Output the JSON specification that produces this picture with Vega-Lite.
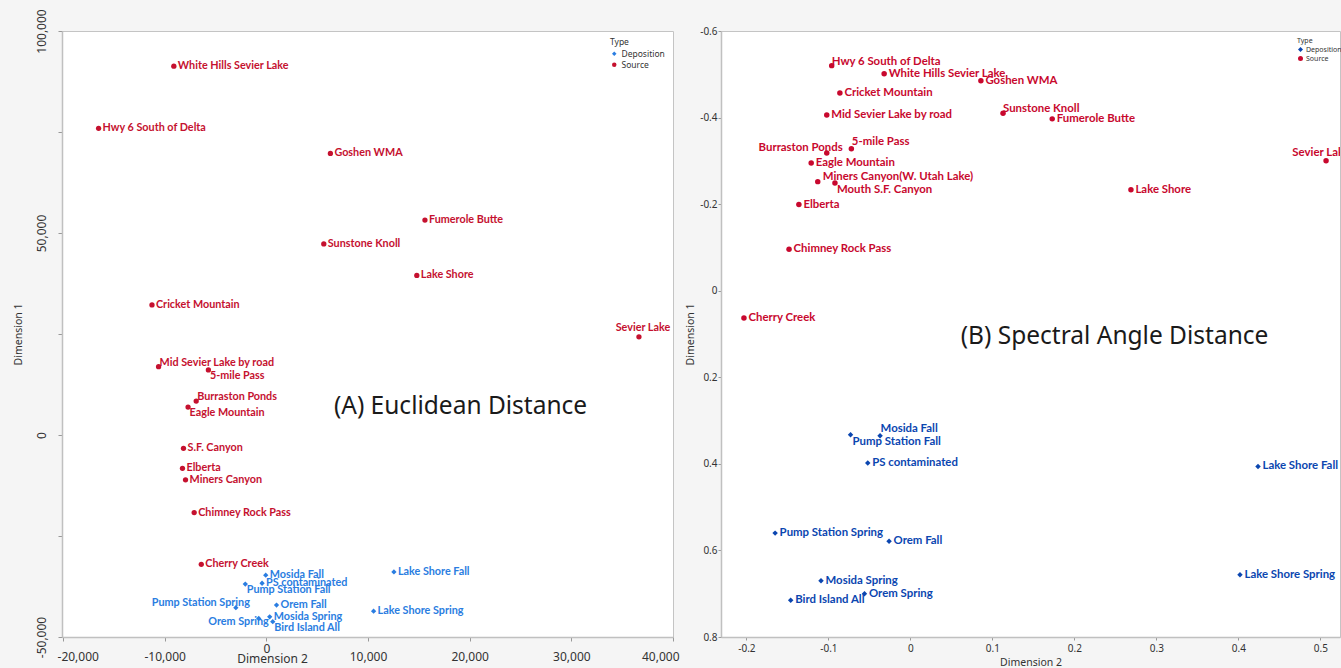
{
  "$schema": "https://vega.github.io/schema/vega-lite/v6.json",
  "background": "#f5f5f5",
  "padding": {"left": 12, "top": 8, "right": 0, "bottom": 0},
  "spacing": 5,
  "config": {
    "view": {"fill": "white", "stroke": "#c4c4c4"},
    "axis": {"grid": false, "domainColor": "#c0c0c0", "domainWidth": 1.5, "tickColor": "#999999", "labelColor": "#333333", "titleColor": "#333333", "labelFont": "Noto Sans", "titleFont": "Noto Sans", "titleFontWeight": "normal"},
    "legend": {"labelFont": "Noto Sans", "titleFont": "Noto Sans", "titleFontWeight": "normal", "labelColor": "#333333", "titleColor": "#333333"}
  },
  "resolve": {"scale": {"color": "independent", "shape": "independent"}, "legend": {"color": "independent", "shape": "independent"}},
  "datasets": {
    "left": [
      {"name": "White Hills Sevier Lake", "type": "Source", "x": -9100, "y": 91300},
      {"name": "Hwy 6 South of Delta", "type": "Source", "x": -16500, "y": 75900},
      {"name": "Goshen WMA", "type": "Source", "x": 6300, "y": 69700},
      {"name": "Fumerole Butte", "type": "Source", "x": 15600, "y": 53200},
      {"name": "Sunstone Knoll", "type": "Source", "x": 5650, "y": 47300},
      {"name": "Lake Shore", "type": "Source", "x": 14800, "y": 39500},
      {"name": "Sevier Lake", "type": "Source", "x": 36650, "y": 24300},
      {"name": "Cricket Mountain", "type": "Source", "x": -11250, "y": 32200},
      {"name": "Mid Sevier Lake by road", "type": "Source", "x": -10600, "y": 16900},
      {"name": "5-mile Pass", "type": "Source", "x": -5700, "y": 16100},
      {"name": "Burraston Ponds", "type": "Source", "x": -6900, "y": 8400},
      {"name": "Eagle Mountain", "type": "Source", "x": -7700, "y": 6900},
      {"name": "S.F. Canyon", "type": "Source", "x": -8150, "y": -3300},
      {"name": "Elberta", "type": "Source", "x": -8250, "y": -8250},
      {"name": "Miners Canyon", "type": "Source", "x": -7950, "y": -11100},
      {"name": "Chimney Rock Pass", "type": "Source", "x": -7100, "y": -19200},
      {"name": "Cherry Creek", "type": "Source", "x": -6400, "y": -32000},
      {"name": "Mosida Fall", "type": "Deposition", "x": -60, "y": -34700},
      {"name": "PS contaminated", "type": "Deposition", "x": -420, "y": -36700},
      {"name": "Pump Station Fall", "type": "Deposition", "x": -2070, "y": -36900},
      {"name": "Pump Station Spring", "type": "Deposition", "x": -3000, "y": -42750},
      {"name": "Orem Fall", "type": "Deposition", "x": 1000, "y": -42100},
      {"name": "Mosida Spring", "type": "Deposition", "x": 330, "y": -45000},
      {"name": "Orem Spring", "type": "Deposition", "x": -750, "y": -45400},
      {"name": "Bird Island All", "type": "Deposition", "x": 630, "y": -46200},
      {"name": "Lake Shore Fall", "type": "Deposition", "x": 12550, "y": -33900},
      {"name": "Lake Shore Spring", "type": "Deposition", "x": 10550, "y": -43600}
    ],
    "right": [
      {"name": "Hwy 6 South of Delta", "type": "Source", "x": -0.096, "y": -0.52},
      {"name": "White Hills Sevier Lake", "type": "Source", "x": -0.032, "y": -0.501},
      {"name": "Goshen WMA", "type": "Source", "x": 0.086, "y": -0.485},
      {"name": "Cricket Mountain", "type": "Source", "x": -0.086, "y": -0.457},
      {"name": "Mid Sevier Lake by road", "type": "Source", "x": -0.102, "y": -0.406},
      {"name": "Sunstone Knoll", "type": "Source", "x": 0.113, "y": -0.41},
      {"name": "Fumerole Butte", "type": "Source", "x": 0.173, "y": -0.397},
      {"name": "Burraston Ponds", "type": "Source", "x": -0.102, "y": -0.318},
      {"name": "5-mile Pass", "type": "Source", "x": -0.072, "y": -0.328},
      {"name": "Eagle Mountain", "type": "Source", "x": -0.121, "y": -0.295},
      {"name": "Miners Canyon(W. Utah Lake)", "type": "Source", "x": -0.113, "y": -0.252},
      {"name": "Mouth S.F. Canyon", "type": "Source", "x": -0.092, "y": -0.249},
      {"name": "Elberta", "type": "Source", "x": -0.136, "y": -0.199},
      {"name": "Chimney Rock Pass", "type": "Source", "x": -0.148, "y": -0.096},
      {"name": "Cherry Creek", "type": "Source", "x": -0.203, "y": 0.063},
      {"name": "Sevier Lake", "type": "Source", "x": 0.507, "y": -0.3},
      {"name": "Lake Shore", "type": "Source", "x": 0.269, "y": -0.233},
      {"name": "Mosida Fall", "type": "Deposition", "x": -0.037, "y": 0.335},
      {"name": "Pump Station Fall", "type": "Deposition", "x": -0.073, "y": 0.333},
      {"name": "PS contaminated", "type": "Deposition", "x": -0.052, "y": 0.398},
      {"name": "Pump Station Spring", "type": "Deposition", "x": -0.165, "y": 0.56},
      {"name": "Orem Fall", "type": "Deposition", "x": -0.026, "y": 0.579},
      {"name": "Mosida Spring", "type": "Deposition", "x": -0.109, "y": 0.67},
      {"name": "Orem Spring", "type": "Deposition", "x": -0.056, "y": 0.7},
      {"name": "Bird Island All", "type": "Deposition", "x": -0.146, "y": 0.715},
      {"name": "Lake Shore Fall", "type": "Deposition", "x": 0.424, "y": 0.406},
      {"name": "Lake Shore Spring", "type": "Deposition", "x": 0.402, "y": 0.656}
    ]
  },
  "hconcat": [
    {
      "width": 611,
      "height": 606,
      "data": {"name": "left"},
      "encoding": {
        "x": {"field": "x", "type": "quantitative", "scale": {"domain": [-20100, 40000], "nice": false, "zero": false},
          "axis": {"title": "Dimension 2", "values": [-20000, -10000, 0, 10000, 20000, 30000, 40000], "labelExpr": "replace(format(datum.value, ','), '\u2212', '-')", "labelFontSize": 12, "titleFontSize": 12, "tickSize": 4, "labelPadding": {"condition": {"test": "datum.value === 0", "value": 2}, "value": 10}, "titlePadding": -9, "titleX": 210, "labelFlush": 5, "labelFlushOffset": 6}},
        "y": {"field": "y", "type": "quantitative", "scale": {"domain": [-50000, 100000], "nice": false, "zero": false},
          "axis": {"title": "Dimension 1", "values": [-50000, -25000, 0, 25000, 50000, 75000, 100000], "labelExpr": "datum.value % 50000 === 0 ? replace(format(datum.value, ','), '\u2212', '-') : ''", "labelAngle": -90, "labelAlign": "center", "labelBaseline": "bottom", "labelFontSize": 12, "tickSize": 4, "labelPadding": 10, "titleFontSize": 10.5, "titlePadding": 12}},
        "color": {"field": "type", "type": "nominal", "scale": {"domain": ["Deposition", "Source"], "range": ["#2a7de1", "#c5112f"]},
          "legend": {"title": "Type", "orient": "none", "legendX": 548, "legendY": 7, "padding": 0, "titleFontSize": 8.5, "labelFontSize": 8.5, "symbolSize": 20, "titlePadding": 3, "rowPadding": 2, "labelOffset": 3}}
      },
      "layer": [
        {"mark": {"type": "point", "filled": true, "size": 28, "opacity": 1},
          "encoding": {"shape": {"field": "type", "type": "nominal", "scale": {"domain": ["Deposition", "Source"], "range": ["diamond", "circle"]},
            "legend": {"title": "Type", "orient": "none", "legendX": 548, "legendY": 7, "padding": 0, "titleFontSize": 8.5, "labelFontSize": 8.5, "symbolSize": 20, "titlePadding": 3, "rowPadding": 2, "labelOffset": 3}}}},
        {"transform": [{"filter": {"not": {"field": "name", "oneOf": ["Mid Sevier Lake by road", "Burraston Ponds", "5-mile Pass", "Eagle Mountain", "Pump Station Fall", "Bird Island All", "Sevier Lake", "Pump Station Spring", "Orem Spring"]}}}],
          "mark": {"type": "text", "align": "left", "baseline": "middle", "dx": 4, "font": "Lato", "fontWeight": "bold", "fontSize": 10.8, "clip": true},
          "encoding": {"text": {"field": "name"}}},
        {"transform": [{"filter": {"field": "name", "oneOf": ["Mid Sevier Lake by road", "Burraston Ponds"]}}],
          "mark": {"type": "text", "align": "left", "baseline": "middle", "dx": 1, "dy": -4, "font": "Lato", "fontWeight": "bold", "fontSize": 10.8, "clip": true},
          "encoding": {"text": {"field": "name"}}},
        {"transform": [{"filter": {"field": "name", "oneOf": ["5-mile Pass", "Eagle Mountain", "Pump Station Fall", "Bird Island All"]}}],
          "mark": {"type": "text", "align": "left", "baseline": "middle", "dx": 1.5, "dy": 6, "font": "Lato", "fontWeight": "bold", "fontSize": 10.8, "clip": true},
          "encoding": {"text": {"field": "name"}}},
        {"transform": [{"filter": {"field": "name", "oneOf": ["Sevier Lake"]}}],
          "mark": {"type": "text", "align": "center", "baseline": "middle", "dx": 4, "dy": -9, "font": "Lato", "fontWeight": "bold", "fontSize": 10.8, "clip": true},
          "encoding": {"text": {"field": "name"}}},
        {"transform": [{"filter": {"field": "name", "oneOf": ["Pump Station Spring"]}}],
          "mark": {"type": "text", "align": "right", "baseline": "middle", "dx": 14, "dy": -5, "font": "Lato", "fontWeight": "bold", "fontSize": 10.8, "clip": true},
          "encoding": {"text": {"field": "name"}}},
        {"transform": [{"filter": {"field": "name", "oneOf": ["Orem Spring"]}}],
          "mark": {"type": "text", "align": "right", "baseline": "middle", "dx": 10, "dy": 4, "font": "Lato", "fontWeight": "bold", "fontSize": 10.8, "clip": true},
          "encoding": {"text": {"field": "name"}}},
        {"data": {"values": [{"label": "(A) Euclidean Distance", "x": 19100, "y": 6900}]},
          "mark": {"type": "text", "align": "center", "baseline": "middle", "font": "Noto Sans", "fontSize": 24.5},
          "encoding": {"text": {"field": "label"}, "color": {"value": "#1a1a1a"}}}
      ]
    },
    {
      "width": 619,
      "height": 606,
      "data": {"name": "right"},
      "encoding": {
        "x": {"field": "x", "type": "quantitative", "scale": {"domain": [-0.231, 0.524], "nice": false, "zero": false},
          "axis": {"title": "Dimension 2", "values": [-0.2, -0.1, 0, 0.1, 0.2, 0.3, 0.4, 0.5], "labelExpr": "replace(format(datum.value, '.1~f'), '\u2212', '-')", "labelFontSize": 10, "titleFontSize": 10.5, "tickSize": 3, "labelPadding": 3, "titlePadding": 4}},
        "y": {"field": "y", "type": "quantitative", "scale": {"domain": [-0.6, 0.8], "nice": false, "zero": false, "reverse": true},
          "axis": {"title": "Dimension 1", "values": [-0.6, -0.4, -0.2, 0, 0.2, 0.4, 0.6, 0.8], "labelExpr": "replace(format(datum.value, '.1~f'), '\u2212', '-')", "labelFontSize": 10, "titleFontSize": 10.5, "tickSize": 3, "labelPadding": 1, "titlePadding": 4}},
        "color": {"field": "type", "type": "nominal", "scale": {"domain": ["Deposition", "Source"], "range": ["#0b46b0", "#c8082e"]},
          "legend": {"title": "Type", "orient": "none", "legendX": 576, "legendY": 6, "padding": 0, "titleFontSize": 7, "labelFontSize": 7, "symbolSize": 25, "titlePadding": 2, "rowPadding": 1, "labelOffset": 2}}
      },
      "layer": [
        {"mark": {"type": "point", "filled": true, "size": 30, "opacity": 1},
          "encoding": {"shape": {"field": "type", "type": "nominal", "scale": {"domain": ["Deposition", "Source"], "range": ["diamond", "circle"]},
            "legend": {"title": "Type", "orient": "none", "legendX": 576, "legendY": 6, "padding": 0, "titleFontSize": 7, "labelFontSize": 7, "symbolSize": 25, "titlePadding": 2, "rowPadding": 1, "labelOffset": 2}}}},
        {"transform": [{"filter": {"not": {"field": "name", "oneOf": ["Hwy 6 South of Delta", "Sunstone Knoll", "5-mile Pass", "Mosida Fall", "Miners Canyon(W. Utah Lake)", "Mouth S.F. Canyon", "Pump Station Fall", "Burraston Ponds", "Sevier Lake"]}}}],
          "mark": {"type": "text", "align": "left", "baseline": "middle", "dx": 4.5, "font": "Lato", "fontWeight": "bold", "fontSize": 11.4, "clip": true},
          "encoding": {"text": {"field": "name"}}},
        {"transform": [{"filter": {"field": "name", "oneOf": ["Hwy 6 South of Delta", "Sunstone Knoll"]}}],
          "mark": {"type": "text", "align": "left", "baseline": "middle", "dx": 0, "dy": -4, "font": "Lato", "fontWeight": "bold", "fontSize": 11.4, "clip": true},
          "encoding": {"text": {"field": "name"}}},
        {"transform": [{"filter": {"field": "name", "oneOf": ["5-mile Pass", "Mosida Fall"]}}],
          "mark": {"type": "text", "align": "left", "baseline": "middle", "dx": 0.5, "dy": -7, "font": "Lato", "fontWeight": "bold", "fontSize": 11.4, "clip": true},
          "encoding": {"text": {"field": "name"}}},
        {"transform": [{"filter": {"field": "name", "oneOf": ["Miners Canyon(W. Utah Lake)"]}}],
          "mark": {"type": "text", "align": "left", "baseline": "middle", "dx": 5, "dy": -5, "font": "Lato", "fontWeight": "bold", "fontSize": 11.4, "clip": true},
          "encoding": {"text": {"field": "name"}}},
        {"transform": [{"filter": {"field": "name", "oneOf": ["Mouth S.F. Canyon", "Pump Station Fall"]}}],
          "mark": {"type": "text", "align": "left", "baseline": "middle", "dx": 2, "dy": 7, "font": "Lato", "fontWeight": "bold", "fontSize": 11.4, "clip": true},
          "encoding": {"text": {"field": "name"}}},
        {"transform": [{"filter": {"field": "name", "oneOf": ["Burraston Ponds"]}}],
          "mark": {"type": "text", "align": "right", "baseline": "middle", "dx": 16, "dy": -5, "font": "Lato", "fontWeight": "bold", "fontSize": 11.4, "clip": true},
          "encoding": {"text": {"field": "name"}}},
        {"transform": [{"filter": {"field": "name", "oneOf": ["Sevier Lake"]}}],
          "mark": {"type": "text", "align": "center", "baseline": "middle", "dx": -5, "dy": -8, "font": "Lato", "fontWeight": "bold", "fontSize": 11.4, "clip": true},
          "encoding": {"text": {"field": "name"}}},
        {"data": {"values": [{"label": "(B) Spectral Angle Distance", "x": 0.249, "y": 0.107}]},
          "mark": {"type": "text", "align": "center", "baseline": "middle", "font": "Noto Sans", "fontSize": 24.5},
          "encoding": {"text": {"field": "label"}, "color": {"value": "#1a1a1a"}}}
      ]
    }
  ]
}
